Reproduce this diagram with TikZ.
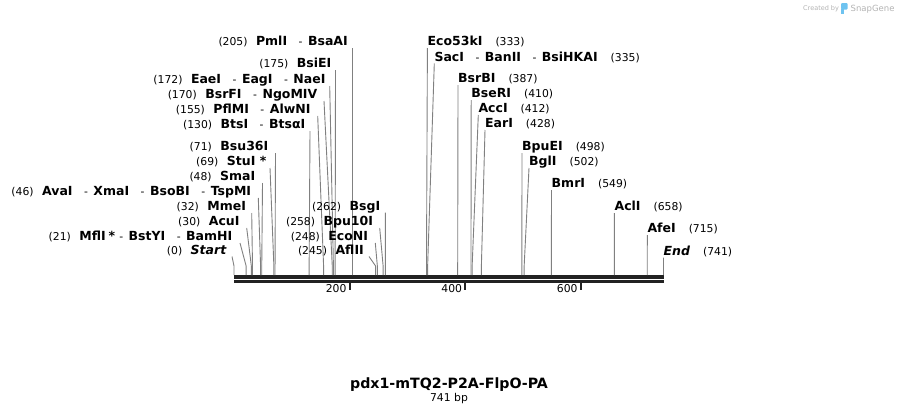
\documentclass[tikz,border=0pt]{standalone}
\usepackage{fontspec}
\setmainfont{DejaVu Sans}
\definecolor{barc}{HTML}{222222}
\definecolor{sitec}{HTML}{808080}
\definecolor{wmgray}{HTML}{B4B4B4}
\definecolor{wmblue}{HTML}{6EC3F0}
\newcommand\enzb[1]{{\fontsize{12.5}{14}\selectfont\bfseries #1}}
\newcommand\enzbi[1]{{\fontsize{12.5}{14}\selectfont\bfseries\itshape #1}}
\newcommand\sepdash{\hspace{11.5pt}-\hspace{5.5pt}}
\newcommand\sepdasha{\hspace{4pt}-\hspace{5.5pt}}
\newcommand\numgap{\hspace{8.5pt}}
\newcommand\rgapx{\hspace{13pt}}
\tikzset{
  lbl/.style={inner sep=0pt, font=\fontsize{10.8}{12}\selectfont, text=black},
  siteline/.style={draw=sitec, line width=0.9pt},
  barline/.style={draw=barc},
  tickline/.style={draw=barc, line width=2pt},
}
% left label: name, pos, xtop, ytop, gap, text
\newcommand\lsite[6]{%
  \node[lbl, anchor=base east] (#1) at ({#3-#5},{#4-2.5}) {#6};
  \coordinate (#1s) at ({234+0.578*#2},275);
  \draw[siteline] (#1s) -- ++(0,-9) -- ([xshift=#5pt,yshift=-2.5pt]#1.base east);
}
% right label: name, pos, xtop, ytop, text
\newcommand\rsite[5]{%
  \node[lbl, anchor=base west] (#1) at (#3,{#4-2.5}) {#5};
  \coordinate (#1s) at ({234+0.578*#2},275);
  \draw[siteline] (#1s) -- ++(0,-9) -- ([yshift=-2.5pt]#1.base west);
}
\begin{document}
\begin{tikzpicture}[x=1pt,y=-1pt]
\useasboundingbox[fill=white] (0,0) rectangle (899,415);

% sequence bar
\coordinate (barL) at (234,277);
\coordinate (barR) at (663.5,277);
\draw[barline, line width=3.3pt] (barL) -- (barR);
\draw[barline, line width=2.7pt] ([yshift=-4.3pt]barL) -- ([yshift=-4.3pt]barR);

% ticks
\foreach \t in {200,400,600}{
  \coordinate (tk\t) at ({234+0.578*\t},282);
  \draw[tickline] (tk\t) -- ++(0,8);
  \node[lbl, anchor=base east] (tl\t) at ([xshift=-3pt,yshift=-10.5pt]tk\t) {\t};
}

% left-side labels
\lsite{a205}{205}{352.5}{48}{4.5}{(205)\numgap\enzb{PmlI}\sepdash\enzb{BsaAI}}
\lsite{a175}{175}{335.5}{70}{4}{(175)\numgap\enzb{BsiEI}}
\lsite{a172}{172}{329.7}{86}{4}{(172)\numgap\enzb{EaeI}\sepdash\enzb{EagI}\sepdash\enzb{NaeI}}
\lsite{a170}{170}{324}{101}{6.5}{(170)\numgap\enzb{BsrFI}\sepdash\enzb{NgoMIV}}
\lsite{a155}{155}{317.7}{116}{7}{(155)\numgap\enzb{PflMI}\sepdash\enzb{AlwNI}}
\lsite{a130}{130}{310}{131}{4.5}{(130)\numgap\enzb{BtsI}\sepdash\enzb{BtsαI}}
\lsite{a71}{71}{275.5}{153}{7}{(71)\numgap\enzb{Bsu36I}}
\lsite{a69}{69}{270}{168}{3.5}{(69)\numgap\enzb{StuI *}}
\lsite{a48}{48}{262.5}{183}{7}{(48)\numgap\enzb{SmaI}}
\lsite{a46}{46}{258.3}{198}{7}{(46)\numgap\enzb{AvaI}\sepdash\enzb{XmaI}\sepdash\enzb{BsoBI}\sepdash\enzb{TspMI}}
\lsite{a32}{32}{251.7}{213}{5.5}{(32)\numgap\enzb{MmeI}}
\lsite{a30}{30}{246.7}{228}{7}{(30)\numgap\enzb{AcuI}}
\lsite{a21}{21}{240}{243}{7.5}{(21)\numgap\enzb{MflI\hspace{3pt}*}\sepdasha\enzb{BstYI}\sepdash\enzb{BamHI}}
\lsite{a0}{0}{232}{256.5}{5.5}{(0)\numgap\enzbi{Start}}
\lsite{a262}{262}{385.4}{212.7}{5}{(262)\numgap\enzb{BsgI}}
\lsite{a258}{258}{379.7}{228}{6.5}{(258)\numgap\enzb{Bpu10I}}
\lsite{a248}{248}{375.3}{243}{7}{(248)\numgap\enzb{EcoNI}}
\lsite{a245}{245}{369}{256.5}{5}{(245)\numgap\enzb{AflII}}

% right-side labels
\rsite{b333}{333}{427.4}{48}{\enzb{Eco53kI}\rgapx(333)}
\rsite{b335}{335}{434.3}{63.5}{\enzb{SacI}\sepdash\enzb{BanII}\sepdash\enzb{BsiHKAI}\rgapx(335)}
\rsite{b387}{387}{458}{85}{\enzb{BsrBI}\rgapx(387)}
\rsite{b410}{410}{471.2}{100}{\enzb{BseRI}\rgapx(410)}
\rsite{b412}{412}{478.3}{115}{\enzb{AccI}\rgapx(412)}
\rsite{b428}{428}{485}{130}{\enzb{EarI}\rgapx(428)}
\rsite{b498}{498}{522}{153}{\enzb{BpuEI}\rgapx(498)}
\rsite{b502}{502}{529}{168}{\enzb{BglI}\rgapx(502)}
\rsite{b549}{549}{551.5}{190}{\enzb{BmrI}\rgapx(549)}
\rsite{b658}{658}{614.4}{213}{\enzb{AclI}\rgapx(658)}
\rsite{b715}{715}{647.3}{235}{\enzb{AfeI}\rgapx(715)}
\rsite{b741}{743}{663.5}{257.7}{\enzbi{End}\rgapx(741)}

% title
\node[lbl, anchor=base, font=\fontsize{14.2}{16}\selectfont\bfseries] (title) at (449,388.5) {pdx1-mTQ2-P2A-FlpO-PA};
\node[lbl, anchor=base] (size) at (449,401.5) {741 bp};

% watermark
\node[lbl, anchor=base west, text=wmgray, font=\fontsize{6.5}{8}\selectfont] (wm1) at (803,10.5) {Created by};
\fill[wmblue, rounded corners=1pt] (841,3) rectangle (847.5,9.5);
\fill[wmblue] (841,9) rectangle (843.5,14);
\node[lbl, anchor=base west, text=wmgray, font=\fontsize{8.5}{10}\selectfont] (wm2) at (850.5,11) {SnapGene};
\end{tikzpicture}
\end{document}
